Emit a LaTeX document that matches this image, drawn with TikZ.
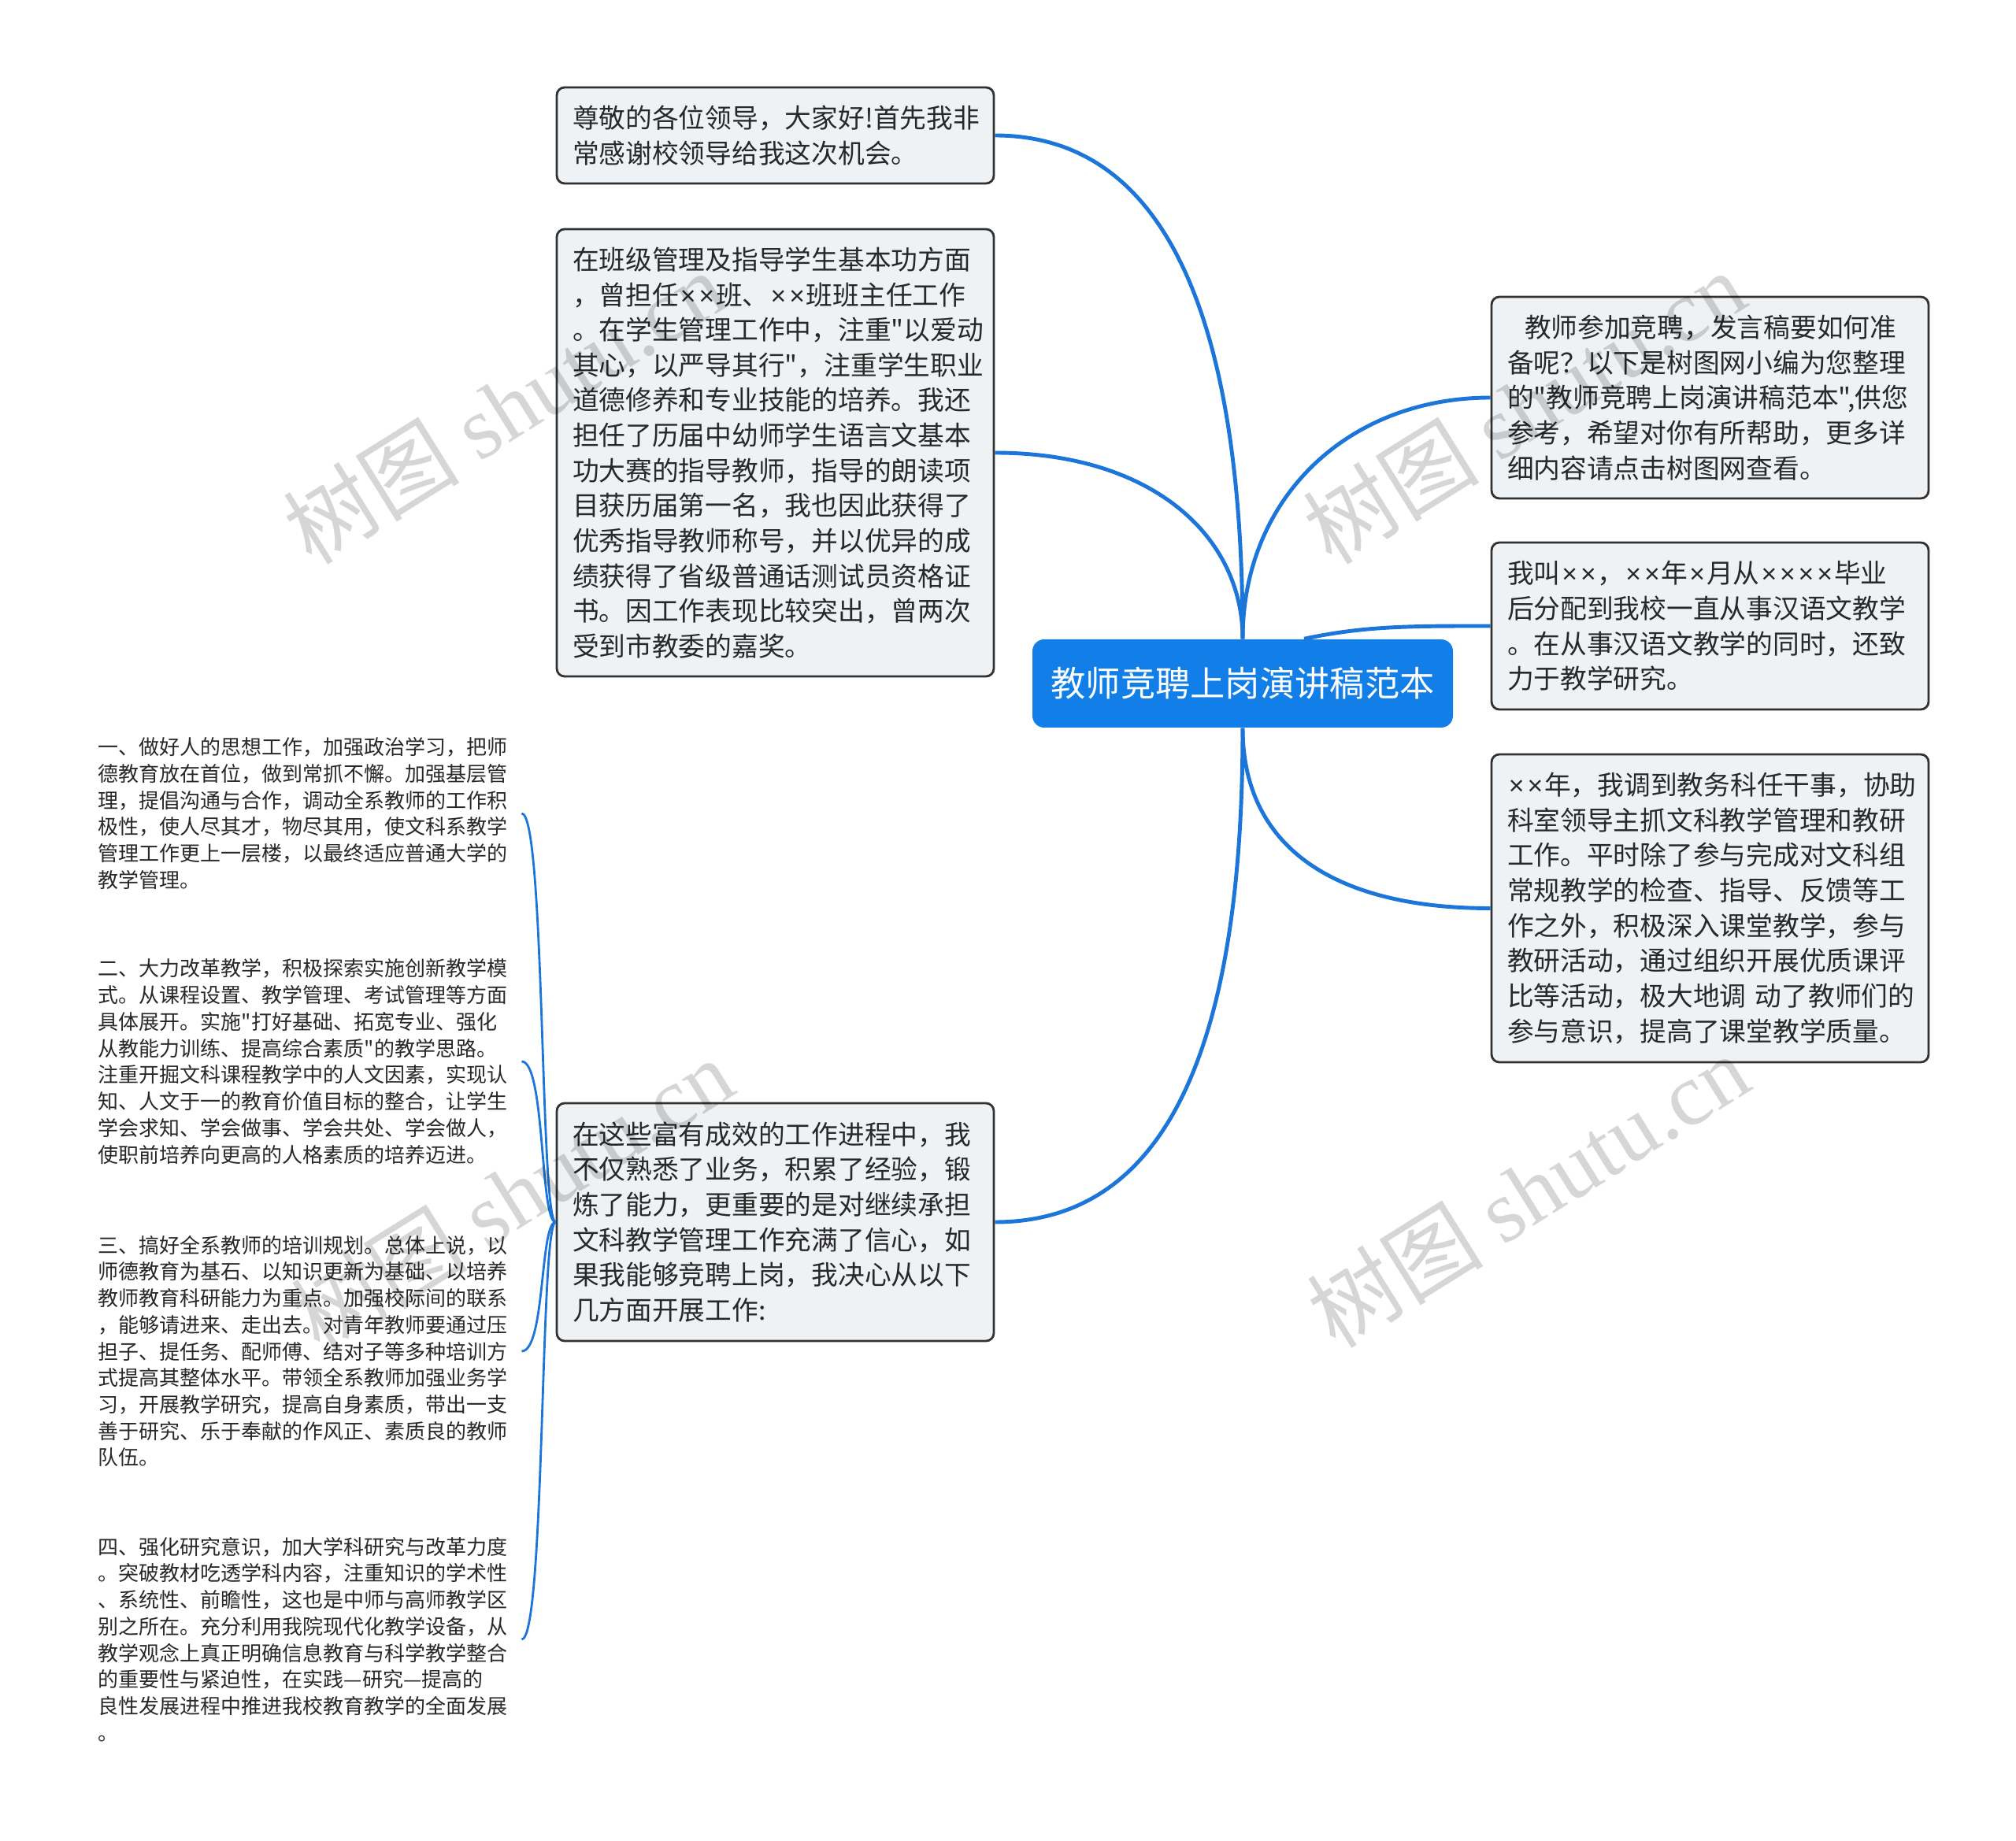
\documentclass[tikz,border=0pt]{standalone}
\usepackage{fontspec}
\usepackage{tikz}
\usetikzlibrary{positioning}
\newfontfamily\cjk{Noto Sans CJK SC}
\newfontfamily\wmfont{Liberation Serif}
\newfontfamily\latinsans{Liberation Sans}
\newcommand\tm{\hbox to 0.7em{\hss\latinsans ×\hss}}
\definecolor{rootblue}{RGB}{18,126,232}
\definecolor{lineblue}{RGB}{28,118,218}
\definecolor{boxfill}{RGB}{239,242,245}
\definecolor{boxline}{RGB}{50,50,50}
\definecolor{textgray}{RGB}{40,40,40}

\begin{document}
\begin{tikzpicture}[
  hub/.style={fill=rootblue, rounded corners=0.15cm, minimum width=5.34cm, minimum height=1.12cm,
    text=white, font=\cjk\fontsize{12.6}{15}\selectfont},
  leaf/.style={draw=boxline, fill=boxfill, line width=0.8pt, rounded corners=0.1cm,
    text width=5.15cm, inner xsep=0.2cm, align=left, text=textgray,
    font=\cjk\fontsize{9.6}{12.7}\selectfont},
  point/.style={anchor=west, text width=5.24cm, inner xsep=0.13cm, align=left, text=textgray,
    font=\cjk\fontsize{7.4}{9.6}\selectfont},
  branch/.style={draw=lineblue, line width=1.4pt},
  twig/.style={draw=lineblue, line width=0.8pt},
  wmark/.style={rotate=32, text=black, text opacity=0.16, font=\fontsize{32}{32}\selectfont}]

\useasboundingbox (0,0) rectangle (25.6,23.37);

% 中心主题
\node[hub] (topic) at (15.78,14.69) {教师竞聘上岗演讲稿范本};

% 左侧
\node[leaf, minimum height=1.22cm] (greet) at (9.845,21.65)
  {尊敬的各位领导，大家好!首先我非\\常感谢校领导给我这次机会。};
\node[leaf, minimum height=5.68cm] (record) at (9.845,17.62)
  {在班级管理及指导学生基本功方面\\，曾担任\tm\tm 班、\tm\tm 班班主任工作\\。在学生管理工作中，注重"以爱动\\其心，以严导其行"，注重学生职业\\道德修养和专业技能的培养。我还\\担任了历届中幼师学生语言文基本\\功大赛的指导教师，指导的朗读项\\目获历届第一名，我也因此获得了\\优秀指导教师称号，并以优异的成\\绩获得了省级普通话测试员资格证\\书。因工作表现比较突出，曾两次\\受到市教委的嘉奖。};
\node[leaf, minimum height=3.02cm] (plan) at (9.845,7.85)
  {在这些富有成效的工作进程中，我\\不仅熟悉了业务，积累了经验，锻\\炼了能力，更重要的是对继续承担\\文科教学管理工作充满了信心，如\\果我能够竞聘上岗，我决心从以下\\几方面开展工作:};

% 右侧
\node[leaf, minimum height=2.56cm] (intro) at (21.715,18.32)
  {\hspace*{0.22cm}教师参加竞聘，发言稿要如何准\\备呢？以下是树图网小编为您整理\\的"教师竞聘上岗演讲稿范本",供您\\参考，希望对你有所帮助，更多详\\细内容请点击树图网查看。};
\node[leaf, minimum height=2.12cm] (self) at (21.715,15.42)
  {我叫\tm\tm ，\tm\tm 年\tm 月从\tm\tm\tm\tm 毕业\\后分配到我校一直从事汉语文教学\\。在从事汉语文教学的同时，还致\\力于教学研究。};
\node[leaf, minimum height=3.91cm] (office) at (21.715,11.835)
  {\tm\tm 年，我调到教务科任干事，协助\\科室领导主抓文科教学管理和教研\\工作。平时除了参与完成对文科组\\常规教学的检查、指导、反馈等工\\作之外，积极深入课堂教学，参与\\教研活动，通过组织开展优质课评\\比等活动，极大地调~动了教师们的\\参与意识，提高了课堂教学质量。};

% 四个方面
\node[point] (p1) at (1.11,13.04)
  {一、做好人的思想工作，加强政治学习，把师\\德教育放在首位，做到常抓不懈。加强基层管\\理，提倡沟通与合作，调动全系教师的工作积\\极性，使人尽其才，物尽其用，使文科系教学\\管理工作更上一层楼，以最终适应普通大学的\\教学管理。};
\node[point] (p2) at (1.11,9.89)
  {二、大力改革教学，积极探索实施创新教学模\\式。从课程设置、教学管理、考试管理等方面\\具体展开。实施"打好基础、拓宽专业、强化\\从教能力训练、提高综合素质"的教学思路。\\注重开掘文科课程教学中的人文因素，实现认\\知、人文于一的教育价值目标的整合，让学生\\学会求知、学会做事、学会共处、学会做人，\\使职前培养向更高的人格素质的培养迈进。};
\node[point] (p3) at (1.11,6.21)
  {三、搞好全系教师的培训规划。总体上说，以\\师德教育为基石、以知识更新为基础、以培养\\教师教育科研能力为重点。加强校际间的联系\\，能够请进来、走出去。对青年教师要通过压\\担子、提任务、配师傅、结对子等多种培训方\\式提高其整体水平。带领全系教师加强业务学\\习，开展教学研究，提高自身素质，带出一支\\善于研究、乐于奉献的作风正、素质良的教师\\队伍。};
\node[point] (p4) at (1.11,2.55)
  {四、强化研究意识，加大学科研究与改革力度\\。突破教材吃透学科内容，注重知识的学术性\\、系统性、前瞻性，这也是中师与高师教学区\\别之所在。充分利用我院现代化教学设备，从\\教学观念上真正明确信息教育与科学教学整合\\的重要性与紧迫性，在实践—研究—提高的\\良性发展进程中推进我校教育教学的全面发展\\。};

% 主干连线
\draw[branch] (topic.north) to[out=90,in=0,out distance=4cm,in distance=2.2cm] (greet.east);
\draw[branch] (topic.north) to[out=90,in=0,out distance=1.3cm,in distance=2cm] (record.east);
\draw[branch] (topic.south) to[out=-90,in=0,out distance=4cm,in distance=2.2cm] (plan.east);
\draw[branch] (topic.north) to[out=90,in=180,out distance=1.8cm,in distance=1.8cm] (intro.west);
\draw[branch] (topic.36) to[out=12,in=180,out distance=0.8cm,in distance=1cm] (self.west);
\draw[branch] (topic.south) to[out=-90,in=180,out distance=1.5cm,in distance=2cm] (office.west);

% 分支连线
\foreach \p in {p1,p2,p3,p4}
  \draw[twig] (plan.west) to[out=180,in=0,out distance=0.2cm,in distance=0.3cm] (\p.east);

% 水印
\node[wmark] (wm1) at (6.4,18.2) {\cjk 树图 \wmfont shutu.cn};
\node[wmark] (wm2) at (19.35,18.2) {\cjk 树图 \wmfont shutu.cn};
\node[wmark] (wm3) at (6.5,8.2) {\cjk 树图 \wmfont shutu.cn};
\node[wmark] (wm4) at (19.4,8.25) {\cjk 树图 \wmfont shutu.cn};

\end{tikzpicture}
\end{document}
